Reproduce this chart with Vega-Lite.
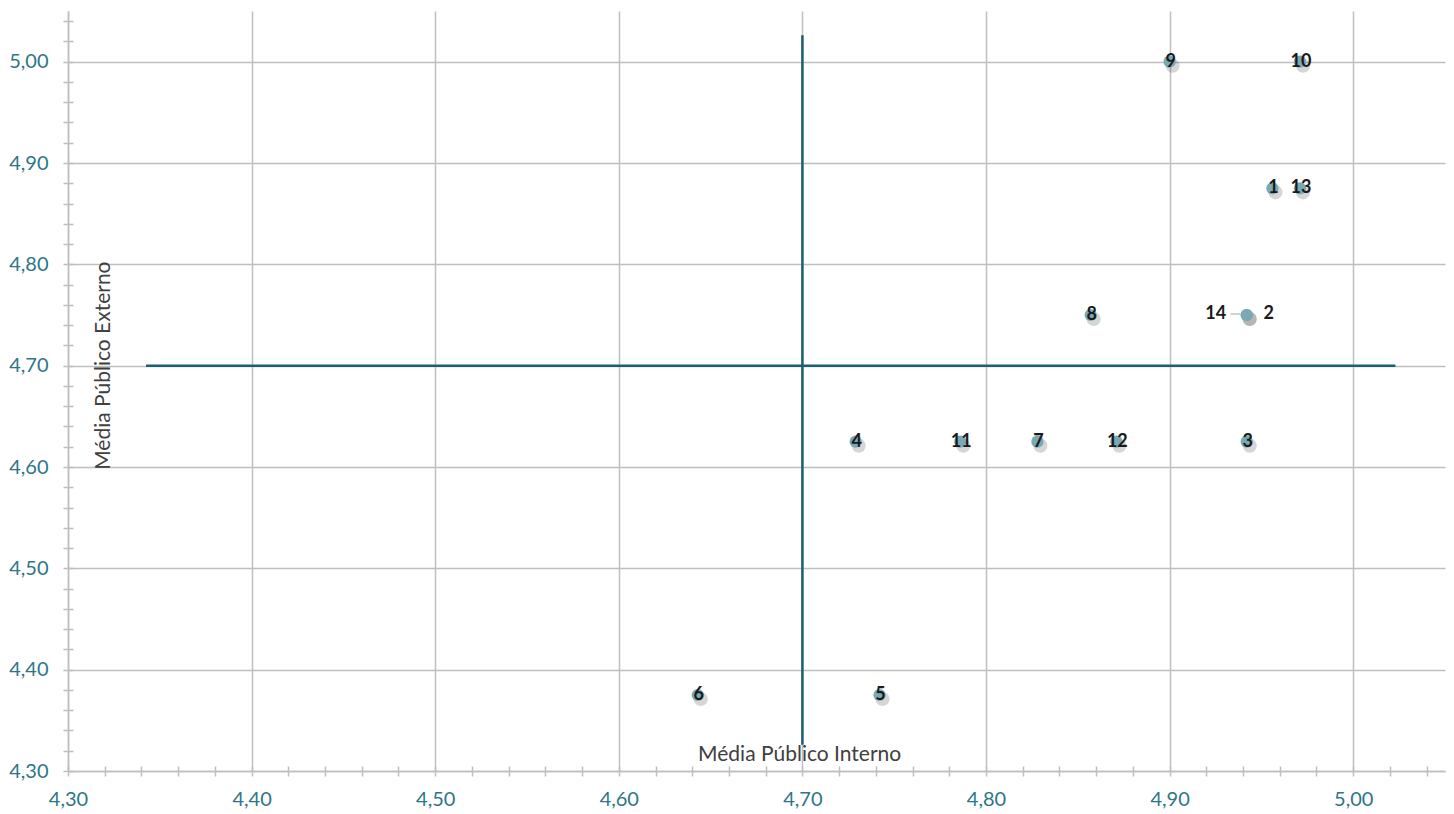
{
  "$schema": "https://vega.github.io/schema/vega-lite/v6.json",
  "width": 1377,
  "height": 760,
  "autosize": {"type": "none"},
  "padding": {"left": 68, "top": 11, "right": 9, "bottom": 43},
  "background": "white",
  "config": {"view": {"stroke": null}, "font": "Lato"},
  "datasets": {
    "points": [
      {"id": "1", "interno": 4.956, "externo": 4.875},
      {"id": "2", "interno": 4.942, "externo": 4.75},
      {"id": "3", "interno": 4.942, "externo": 4.625},
      {"id": "4", "interno": 4.729, "externo": 4.625},
      {"id": "5", "interno": 4.742, "externo": 4.375},
      {"id": "6", "interno": 4.643, "externo": 4.375},
      {"id": "7", "interno": 4.828, "externo": 4.625},
      {"id": "8", "interno": 4.857, "externo": 4.75},
      {"id": "9", "interno": 4.9, "externo": 5.0},
      {"id": "10", "interno": 4.971, "externo": 5.0},
      {"id": "11", "interno": 4.786, "externo": 4.625},
      {"id": "12", "interno": 4.871, "externo": 4.625},
      {"id": "13", "interno": 4.971, "externo": 4.875},
      {"id": "14", "interno": 4.942, "externo": 4.75}
    ],
    "lines": [
      {"x": 4.7, "x2": 4.7, "y": 4.326, "y2": 5.026},
      {"x": 4.3425, "x2": 5.023, "y": 4.7, "y2": 4.7}
    ],
    "leader": [
      {"x": 4.9332, "x2": 4.9385, "y": 4.751, "y2": 4.751}
    ],
    "titles": [
      {"text": "Média Público Interno", "x": 4.6985, "y": 4.316, "angle": 0},
      {"text": "Média Público Externo", "x": 4.3195, "y": 4.7, "angle": 270}
    ]
  },
  "resolve": {"axis": {"x": "independent", "y": "independent"}},
  "layer": [
    {
      "data": {"name": "lines"},
      "mark": {"type": "rule", "color": "#1B5F70", "strokeWidth": 2.5},
      "encoding": {
        "x": {
          "field": "x", "type": "quantitative",
          "scale": {"domain": [4.3, 5.05], "nice": false, "zero": false},
          "axis": {
            "orient": "bottom",
            "values": [4.3,4.32,4.34,4.36,4.38,4.4,4.42,4.44,4.46,4.48,4.5,4.52,4.54,4.56,4.58,4.6,4.62,4.64,4.66,4.68,4.7,4.72,4.74,4.76,4.78,4.8,4.82,4.84,4.86,4.88,4.9,4.92,4.94,4.96,4.98,5.0,5.02,5.04],
            "title": null,
            "domainColor": "#BFBFBF", "domainWidth": 1.5,
            "tickColor": "#BFBFBF", "tickWidth": 1.5, "tickSize": 5,
            "grid": true, "gridColor": "#BFBFBF", "gridWidth": 1.5,
            "gridOpacity": {"condition": {"test": "abs(datum.value*10 - round(datum.value*10)) < 0.01", "value": 1}, "value": 0},
            "labelExpr": "abs(datum.value*10 - round(datum.value*10)) < 0.01 ? replace(format(datum.value, '.2f'), '.', ',') : ''",
            "labelFlush": false, "labelOverlap": false,
            "labelFont": "Lato", "labelFontSize": 20, "labelColor": "#2E7686", "labelPadding": 13
          }
        },
        "x2": {"field": "x2"},
        "y": {
          "field": "y", "type": "quantitative",
          "scale": {"domain": [4.3, 5.05], "nice": false, "zero": false},
          "axis": {
            "orient": "left",
            "values": [4.3,4.32,4.34,4.36,4.38,4.4,4.42,4.44,4.46,4.48,4.5,4.52,4.54,4.56,4.58,4.6,4.62,4.64,4.66,4.68,4.7,4.72,4.74,4.76,4.78,4.8,4.82,4.84,4.86,4.88,4.9,4.92,4.94,4.96,4.98,5.0,5.02,5.04],
            "title": null,
            "domainColor": "#BFBFBF", "domainWidth": 1.5,
            "tickColor": "#BFBFBF", "tickWidth": 1.5, "tickSize": 5,
            "grid": true, "gridColor": "#BFBFBF", "gridWidth": 1.5,
            "gridOpacity": {"condition": {"test": "abs(datum.value*10 - round(datum.value*10)) < 0.01", "value": 1}, "value": 0},
            "labelExpr": "abs(datum.value*10 - round(datum.value*10)) < 0.01 ? replace(format(datum.value, '.2f'), '.', ',') : ''",
            "labelFlush": false, "labelOverlap": false,
            "labelFont": "Lato", "labelFontSize": 20, "labelColor": "#2E7686", "labelPadding": 15
          }
        },
        "y2": {"field": "y2"}
      }
    },
    {
      "data": {"name": "leader"},
      "mark": {"type": "rule", "color": "#A6A6A6", "strokeWidth": 1},
      "encoding": {
        "x": {
          "field": "x", "type": "quantitative",
          "axis": {
            "orient": "bottom",
            "values": [4.3,4.32,4.34,4.36,4.38,4.4,4.42,4.44,4.46,4.48,4.5,4.52,4.54,4.56,4.58,4.6,4.62,4.64,4.66,4.68,4.7,4.72,4.74,4.76,4.78,4.8,4.82,4.84,4.86,4.88,4.9,4.92,4.94,4.96,4.98,5.0,5.02,5.04],
            "title": null, "domain": false, "grid": false, "labels": false,
            "tickColor": "#BFBFBF", "tickWidth": 1.5, "tickSize": -5
          }
        },
        "x2": {"field": "x2"},
        "y": {
          "field": "y", "type": "quantitative",
          "axis": {
            "orient": "left",
            "values": [4.3,4.32,4.34,4.36,4.38,4.4,4.42,4.44,4.46,4.48,4.5,4.52,4.54,4.56,4.58,4.6,4.62,4.64,4.66,4.68,4.7,4.72,4.74,4.76,4.78,4.8,4.82,4.84,4.86,4.88,4.9,4.92,4.94,4.96,4.98,5.0,5.02,5.04],
            "title": null, "domain": false, "grid": false, "labels": false,
            "tickColor": "#BFBFBF", "tickWidth": 1.5, "tickSize": -5
          }
        },
        "y2": {"field": "y2"}
      }
    },
    {
      "data": {"name": "points"},
      "mark": {"type": "circle", "color": "#444444", "opacity": 0.22, "size": 200, "xOffset": 3, "yOffset": 4},
      "encoding": {
        "x": {"field": "interno", "type": "quantitative", "axis": null},
        "y": {"field": "externo", "type": "quantitative", "axis": null}
      }
    },
    {
      "data": {"name": "points"},
      "mark": {"type": "circle", "color": "#79A9B5", "opacity": 1, "size": 150},
      "encoding": {
        "x": {"field": "interno", "type": "quantitative", "axis": null},
        "y": {"field": "externo", "type": "quantitative", "axis": null}
      }
    },
    {
      "data": {"name": "points"},
      "transform": [{"filter": "datum.id != '14' && datum.id != '2'"}],
      "mark": {"type": "text", "font": "Lato", "fontSize": 18, "fontWeight": "bold", "color": "#1A1A1A", "dx": 1, "baseline": "middle", "align": "center"},
      "encoding": {
        "x": {"field": "interno", "type": "quantitative", "axis": null},
        "y": {"field": "externo", "type": "quantitative", "axis": null},
        "text": {"field": "id"}
      }
    },
    {
      "data": {"name": "points"},
      "transform": [{"filter": "datum.id == '14'"}],
      "mark": {"type": "text", "font": "Lato", "fontSize": 18, "fontWeight": "bold", "color": "#1A1A1A", "dx": -31, "dy": -1, "baseline": "middle", "align": "center"},
      "encoding": {
        "x": {"field": "interno", "type": "quantitative", "axis": null},
        "y": {"field": "externo", "type": "quantitative", "axis": null},
        "text": {"field": "id"}
      }
    },
    {
      "data": {"name": "points"},
      "transform": [{"filter": "datum.id == '2'"}],
      "mark": {"type": "text", "font": "Lato", "fontSize": 18, "fontWeight": "bold", "color": "#1A1A1A", "dx": 22, "dy": -1, "baseline": "middle", "align": "center"},
      "encoding": {
        "x": {"field": "interno", "type": "quantitative", "axis": null},
        "y": {"field": "externo", "type": "quantitative", "axis": null},
        "text": {"field": "id"}
      }
    },
    {
      "data": {"name": "titles"},
      "mark": {"type": "text", "font": "Lato", "fontSize": 21, "color": "#404040", "baseline": "middle", "align": "center"},
      "encoding": {
        "x": {"field": "x", "type": "quantitative", "axis": null},
        "y": {"field": "y", "type": "quantitative", "axis": null},
        "angle": {"field": "angle", "type": "quantitative", "scale": null},
        "text": {"field": "text"}
      }
    }
  ]
}
